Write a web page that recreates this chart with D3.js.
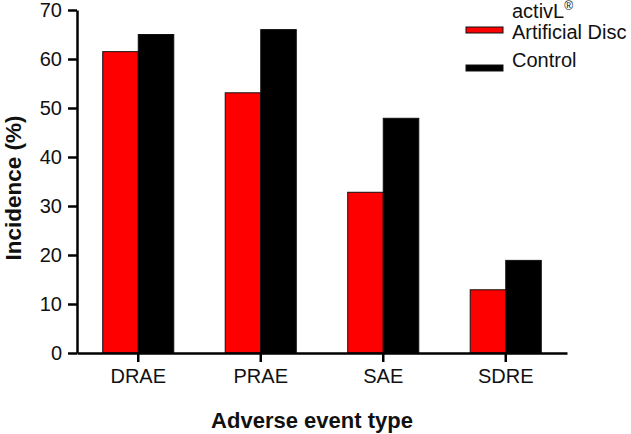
<!DOCTYPE html>
<html>
<head>
<meta charset="utf-8">
<script src="https://cdn.jsdelivr.net/npm/d3@7"></script>
<style>
  html, body { margin: 0; padding: 0; background: #fff; }
  svg { display: block; font-family: "Liberation Sans", Arial, sans-serif; }
</style>
</head>
<body>
<svg id="chart" width="631" height="434"></svg>
<script>
const categories = ["DRAE", "PRAE", "SAE", "SDRE"];
const activLValues = [61.5, 53.1, 32.8, 12.9];
const controlValues = [65.0, 66.0, 47.9, 18.9];
const seriesNames = ["activL", "Control"];
const seriesColors = ["#ff0000", "#000000"];
const yTicks = [0, 10, 20, 30, 40, 50, 60, 70];

const svg = d3.select("#chart");
const mLeft = 77, mRight = 567, mTop = 10, mBottom = 353;

const x = d3.scaleBand().domain(categories).range([mLeft, mRight])
  .paddingInner(0.42).paddingOuter(0.21);
const y = d3.scaleLinear().domain([0, 70]).range([mBottom, mTop]);

const rows = categories.map((c, i) => ({ cat: c, vals: [activLValues[i], controlValues[i]] }));
const bw = x.bandwidth() / 2;

const groups = svg.append("g").selectAll("g").data(rows).join("g")
  .attr("transform", d => `translate(${x(d.cat)},0)`);
groups.selectAll("rect").data(d => d.vals).join("rect")
  .attr("x", (d, i) => i * bw)
  .attr("y", d => y(d))
  .attr("width", bw)
  .attr("height", d => y(0) - y(d))
  .attr("fill", (d, i) => seriesColors[i])
  .attr("stroke", "#111")
  .attr("stroke-width", 1);

// Y axis
const yAxis = svg.append("g").attr("transform", `translate(${mLeft},0)`)
  .call(d3.axisLeft(y).tickValues(yTicks).tickSize(9).tickSizeOuter(0).tickPadding(6));
yAxis.select(".domain").attr("stroke", "#000").attr("stroke-width", 2.5);
yAxis.selectAll(".tick line").attr("stroke", "#000").attr("stroke-width", 2.5);
yAxis.selectAll(".tick text").attr("font-size", 20).attr("fill", "#111")
  .attr("font-family", "Liberation Sans, Arial, sans-serif");

// X axis
const xAxis = svg.append("g").attr("transform", `translate(0,${mBottom})`)
  .call(d3.axisBottom(x).tickSize(9).tickSizeOuter(0).tickPadding(7));
xAxis.select(".domain").attr("stroke", "#000").attr("stroke-width", 2.5);
xAxis.selectAll(".tick line").attr("stroke", "#000").attr("stroke-width", 2.5);
xAxis.selectAll(".tick text").attr("font-size", 20).attr("fill", "#111")
  .attr("font-family", "Liberation Sans, Arial, sans-serif");

// Axis titles
svg.append("text")
  .attr("transform", `translate(21,188) rotate(-90)`)
  .attr("text-anchor", "middle")
  .attr("font-size", 22.5).attr("font-weight", "bold").attr("fill", "#111")
  .text("Incidence (%)");
svg.append("text")
  .attr("x", 312).attr("y", 428)
  .attr("text-anchor", "middle")
  .attr("font-size", 22).attr("font-weight", "bold").attr("fill", "#111")
  .text("Adverse event type");

// Legend
const lg = svg.append("g");
lg.append("rect").attr("x", 466).attr("y", 27).attr("width", 37).attr("height", 6)
  .attr("fill", seriesColors[0]).attr("stroke", "#111").attr("stroke-width", 1);
lg.append("rect").attr("x", 466).attr("y", 65).attr("width", 37).attr("height", 6)
  .attr("fill", seriesColors[1]).attr("stroke", "#111").attr("stroke-width", 1);
const t1 = lg.append("text").attr("x", 512).attr("y", 18).attr("font-size", 20).attr("fill", "#111");
t1.append("tspan").text(seriesNames[0]);
t1.append("tspan").attr("font-size", 12).attr("dy", -8).text("®");
lg.append("text").attr("x", 512).attr("y", 39).attr("font-size", 20).attr("fill", "#111")
  .text("Artificial Disc");
lg.append("text").attr("x", 512).attr("y", 67).attr("font-size", 20).attr("fill", "#111")
  .text(seriesNames[1]);
</script>
</body>
</html>
